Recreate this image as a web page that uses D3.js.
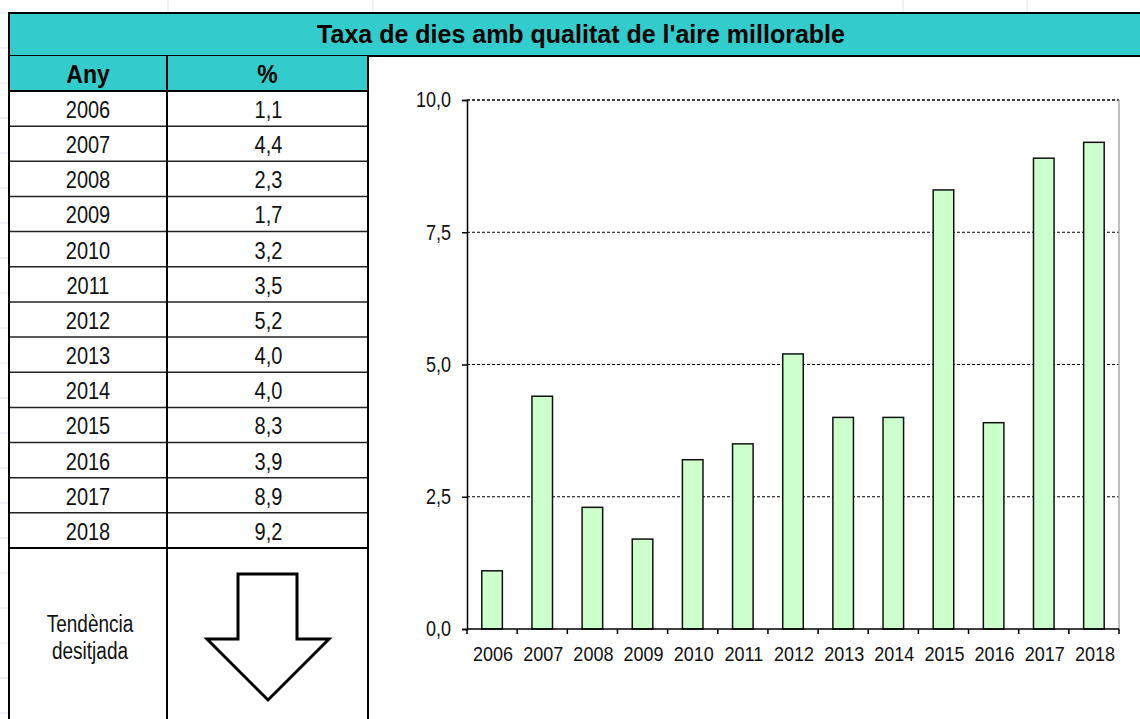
<!DOCTYPE html>
<html>
<head>
<meta charset="utf-8">
<script src="https://cdn.jsdelivr.net/npm/d3@7"></script>
<style>
  body { margin: 0; background: #fff; }
  svg { display: block; font-family: "Liberation Sans", Arial, sans-serif; }
</style>
</head>
<body>
<svg id="chart" width="1140" height="719"></svg>
<script>
// data
const years = ["2006", "2007", "2008", "2009", "2010", "2011", "2012", "2013", "2014", "2015", "2016", "2017", "2018"];
const values = [1.1, 4.4, 2.3, 1.7, 3.2, 3.5, 5.2, 4.0, 4.0, 8.3, 3.9, 8.9, 9.2];
const yTicks = [0, 2.5, 5, 7.5, 10];
const title = "Taxa de dies amb qualitat de l'aire millorable";
const headers = ["Any", "%"];
const trendLabel = ["Tendència", "desitjada"];

const svg = d3.select("#chart");
const locale = d3.formatLocale({ decimal: ",", thousands: ".", grouping: [3], currency: ["", "€"] });
const fmt = locale.format(".1f");

const teal = "#33cccc";

// text that is a bit taller than it is wide, like the original sheet
function label(g, x, y, txt, size, k) {
  return g.append("text")
    .attr("transform", `translate(${x},${y}) scale(1,${k})`)
    .attr("text-anchor", "middle")
    .attr("font-size", size)
    .attr("fill", "#111")
    .text(txt);
}

// faint spreadsheet grid in the background
const sheet = svg.append("g").attr("stroke", "#dde3ee").attr("stroke-width", 1);
[168, 373, 903, 1027].forEach(x => sheet.append("line").attr("x1", x).attr("x2", x).attr("y1", 0).attr("y2", 13));
d3.range(13, 719, 35).forEach(y => sheet.append("line").attr("x1", 0).attr("x2", 8).attr("y1", y).attr("y2", y));

// title band
svg.append("rect")
  .attr("x", 9).attr("y", 13).attr("width", 1140).attr("height", 43)
  .attr("fill", teal).attr("stroke", "#000").attr("stroke-width", 2);
label(svg, 581, 43, title, 25, 1.04).attr("font-weight", "bold").attr("fill", "#000");

// table
const colX = [9, 167, 368];
const headTop = 56, headH = 35;
const rowTop = headTop + headH;
const rowH = (548 - rowTop) / years.length;

const table = svg.append("g");
headers.forEach((h, i) => {
  table.append("rect")
    .attr("x", colX[i]).attr("y", headTop)
    .attr("width", colX[i + 1] - colX[i]).attr("height", headH)
    .attr("fill", teal);
  label(table, (colX[i] + colX[i + 1]) / 2, headTop + 27, h, 23, 1.09).attr("font-weight", "bold").attr("fill", "#000");
});

years.forEach((yr, i) => {
  const y = rowTop + i * rowH;
  label(table, (colX[0] + colX[1]) / 2, y + 27, yr, 20, 1.15);
  label(table, (colX[1] + colX[2]) / 2 + 1, y + 27, fmt(values[i]), 20, 1.15);
  table.append("line")
    .attr("x1", colX[0]).attr("x2", colX[2])
    .attr("y1", y + rowH).attr("y2", y + rowH)
    .attr("stroke", "#222").attr("stroke-width", 1.5);
});

// header separators
table.append("line").attr("x1", colX[0]).attr("x2", colX[2]).attr("y1", rowTop).attr("y2", rowTop)
  .attr("stroke", "#000").attr("stroke-width", 2);
table.append("line").attr("x1", colX[0]).attr("x2", colX[2]).attr("y1", 548).attr("y2", 548)
  .attr("stroke", "#000").attr("stroke-width", 2);
// vertical borders
colX.forEach(x => {
  table.append("line").attr("x1", x).attr("x2", x).attr("y1", headTop).attr("y2", 719)
    .attr("stroke", "#000").attr("stroke-width", 2);
});

// desired trend cell
trendLabel.forEach((t, i) => {
  label(table, (colX[0] + colX[1]) / 2 + 2, 632 + i * 27, t, 19, 1.22);
});

const arrow = d3.path();
arrow.moveTo(238, 574);
arrow.lineTo(297, 574);
arrow.lineTo(297, 639);
arrow.lineTo(329, 639);
arrow.lineTo(268, 700);
arrow.lineTo(207, 639);
arrow.lineTo(238, 639);
arrow.closePath();
table.append("path").attr("d", arrow.toString())
  .attr("fill", "#fff").attr("stroke", "#000").attr("stroke-width", 3);

// chart
const plot = { left: 467, right: 1119, top: 100, bottom: 629 };
const x = d3.scaleBand().domain(years).range([plot.left, plot.right]).paddingInner(0.59).paddingOuter(0.295);
const xb = d3.scaleBand().domain(years).range([plot.left, plot.right]);
const y = d3.scaleLinear().domain([0, 10]).range([plot.bottom, plot.top]);

const chart = svg.append("g");

// gridlines
chart.selectAll(".grid").data(yTicks.filter(d => d > 0))
  .enter().append("line")
  .attr("x1", plot.left).attr("x2", plot.right)
  .attr("y1", d => y(d)).attr("y2", d => y(d))
  .attr("stroke", "#000").attr("stroke-width", d => d === 10 ? 1.5 : 1).attr("stroke-dasharray", "3,2");

// right border of plot area
chart.append("line")
  .attr("x1", plot.right).attr("x2", plot.right)
  .attr("y1", plot.top).attr("y2", plot.bottom)
  .attr("stroke", "#aaa").attr("stroke-width", 1.5);

// bars
chart.selectAll(".bar").data(values)
  .enter().append("rect")
  .attr("class", "bar")
  .attr("x", (d, i) => x(years[i]))
  .attr("width", x.bandwidth())
  .attr("y", d => y(d))
  .attr("height", d => y(0) - y(d))
  .attr("fill", "#ccffcc").attr("stroke", "#111").attr("stroke-width", 1.5);

// y axis
const yAxis = chart.append("g")
  .attr("transform", `translate(${plot.left},0)`)
  .call(d3.axisLeft(y).tickValues(yTicks).tickFormat(fmt).tickSize(5).tickPadding(11));
yAxis.selectAll("text")
  .attr("font-size", 18).attr("fill", "#111")
  .attr("font-family", "Liberation Sans, Arial, sans-serif")
  .attr("transform", "scale(1,1.18)");
yAxis.selectAll("line, path").attr("stroke", "#000").attr("stroke-width", 1.5);

// x axis with ticks on category boundaries
const xAxis = chart.append("g")
  .attr("transform", `translate(0,${plot.bottom})`);
xAxis.append("line")
  .attr("x1", plot.left).attr("x2", plot.right)
  .attr("stroke", "#000").attr("stroke-width", 1.5);
xAxis.selectAll(".tk").data(years.concat(["end"]))
  .enter().append("line")
  .attr("x1", (d, i) => plot.left + i * xb.bandwidth())
  .attr("x2", (d, i) => plot.left + i * xb.bandwidth())
  .attr("y1", 0).attr("y2", 5)
  .attr("stroke", "#000").attr("stroke-width", 1.5);
years.forEach(d => {
  label(xAxis, xb(d) + xb.bandwidth() / 2 + 1, 31.5, d, 18, 1.16);
});
</script>
</body>
</html>
